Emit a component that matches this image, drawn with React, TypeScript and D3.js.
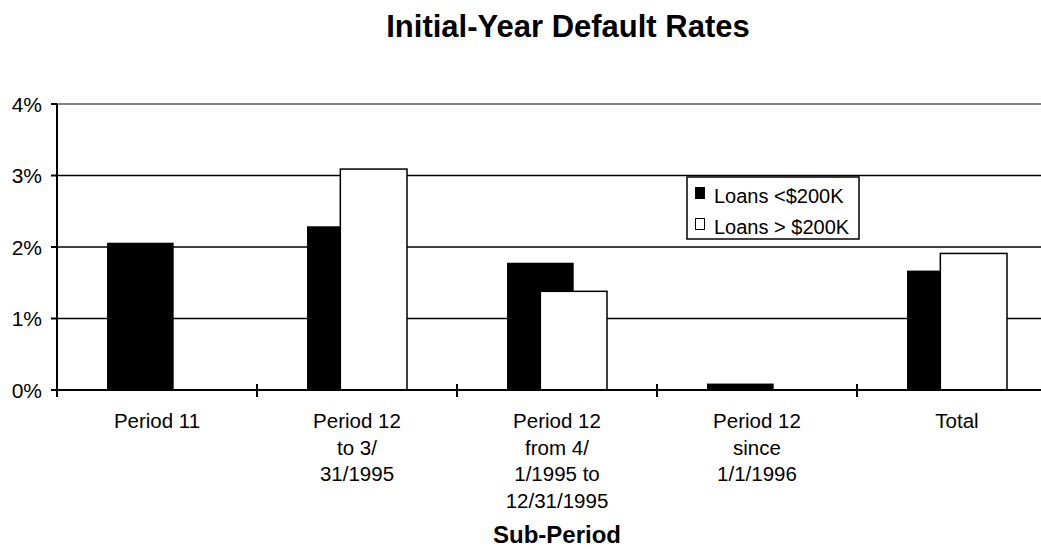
import React from "react";
import * as d3 from "d3";

const categories: string[][] = [
  ["Period 11"],
  ["Period 12", "to 3/", "31/1995"],
  ["Period 12", "from 4/", "1/1995 to", "12/31/1995"],
  ["Period 12", "since", "1/1/1996"],
  ["Total"],
];
const smallLoans: number[] = [2.06, 2.29, 1.78, 0.09, 1.67];
const largeLoans: number[] = [0, 3.09, 1.38, 0, 1.91];
const seriesNames: string[] = ["Loans <$200K", "Loans > $200K"];
const yTicks: number[] = [0, 1, 2, 3, 4];

const W = 1041;
const H = 550;
const FONT = "'Liberation Sans', Arial, sans-serif";

export default function App() {
  const left = 57;
  const top = 104;
  const bottom = 390;
  const bandW = 200;
  const x = d3
    .scaleBand<number>()
    .domain(d3.range(categories.length))
    .range([left, left + bandW * categories.length])
    .paddingInner(0)
    .paddingOuter(0);
  const y = d3.scaleLinear().domain([0, 4]).range([bottom, top]);
  const barW = bandW / 3;
  const offset = barW / 4; // the two series overlap by half a bar
  const plotCenter = left + (bandW * categories.length) / 2;

  return (
    <svg
      width={W}
      height={H}
      style={{ position: "absolute", left: 0, top: 0, background: "#fff" }}
      fontFamily={FONT}
    >
      <rect x={0} y={0} width={W} height={H} fill="#fff" />
      <text x={568} y={37} textAnchor="middle" fontSize={31} fontWeight="bold">
        Initial-Year Default Rates
      </text>

      {/* gridlines */}
      {yTicks.map((t) => (
        <line
          key={"g" + t}
          x1={left}
          x2={W}
          y1={y(t)}
          y2={y(t)}
          stroke={t === 4 ? "#808080" : "#000"}
          strokeWidth={t === 4 ? 2 : 1.5}
        />
      ))}

      {/* bars */}
      {smallLoans.map((v, i) => {
        const c = (x(i) as number) + bandW / 2;
        return (
          <rect
            key={"s" + i}
            x={c - offset - barW / 2}
            y={y(v)}
            width={barW}
            height={y(0) - y(v)}
            fill="#000"
          />
        );
      })}
      {largeLoans.map((v, i) => {
        if (v <= 0) return null;
        const c = (x(i) as number) + bandW / 2;
        return (
          <rect
            key={"l" + i}
            x={c + offset - barW / 2}
            y={y(v)}
            width={barW}
            height={y(0) - y(v)}
            fill="#fff"
            stroke="#000"
            strokeWidth={1.5}
          />
        );
      })}

      {/* axes */}
      <line x1={left} x2={left} y1={top} y2={bottom} stroke="#000" strokeWidth={2} />
      <line x1={left} x2={W} y1={bottom} y2={bottom} stroke="#000" strokeWidth={2} />
      {yTicks.map((t) => (
        <g key={"yt" + t}>
          <line x1={left - 6} x2={left} y1={y(t)} y2={y(t)} stroke="#000" strokeWidth={2} />
          <text x={42} y={y(t) + 7.5} textAnchor="end" fontSize={21}>
            {t}%
          </text>
        </g>
      ))}
      {categories.map((lines, i) => {
        const x0 = x(i) as number;
        const c = x0 + bandW / 2;
        return (
          <g key={"xc" + i}>
            <line x1={x0} x2={x0} y1={bottom - 6} y2={bottom + 7} stroke="#000" strokeWidth={2} />
            {lines.map((s, j) => (
              <text key={j} x={c} y={428 + j * 26.5} textAnchor="middle" fontSize={20.5}>
                {s}
              </text>
            ))}
          </g>
        );
      })}

      <text x={plotCenter} y={543} textAnchor="middle" fontSize={24} fontWeight="bold">
        Sub-Period
      </text>

      {/* legend */}
      <g>
        <rect x={687} y={177} width={172} height={62} fill="#fff" stroke="#000" strokeWidth={1.5} />
        {seriesNames.map((s, i) => (
          <g key={s}>
            <rect
              x={695.5}
              y={187.5 + i * 31}
              width={9}
              height={11}
              fill={i === 0 ? "#000" : "#fff"}
              stroke="#000"
              strokeWidth={1}
            />
            <text x={714} y={202.5 + i * 31.5} fontSize={20}>
              {s}
            </text>
          </g>
        ))}
      </g>
    </svg>
  );
}
